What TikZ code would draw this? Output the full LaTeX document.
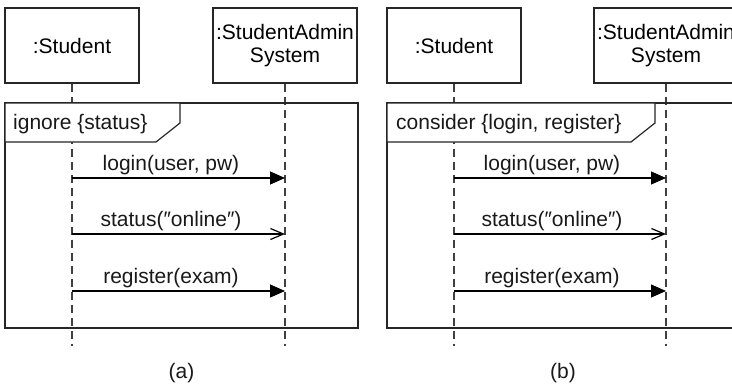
\documentclass[tikz,border=0pt]{standalone}
\usepackage{fontspec}
\setmainfont{Liberation Sans}
\usetikzlibrary{arrows.meta}
\tikzset{
  objbox/.style={draw=black!85, line width=1.2pt, fill=white, inner sep=0pt, align=center, font=\fontsize{21}{23}\selectfont},
  lifeline/.style={draw=black!75, line width=1.2pt, dash pattern=on 8pt off 5pt},
  framebox/.style={draw=black!85, line width=1.2pt},
  framelabel/.style={draw=black!85, line width=1.2pt, fill=white},
  lbl/.style={font=\fontsize{21}{23}\selectfont, inner sep=0pt, text=black!90},
  synmsg/.style={draw=black, line width=1.2pt, -{Triangle[length=15pt,width=13pt]}},
  asynmsg/.style={draw=black, line width=1.2pt, -{Straight Barb[length=13pt,width=11pt,line width=1.2pt]}},
}
\begin{document}
\begin{tikzpicture}[x=1pt,y=-1pt]
\useasboundingbox (0,0) rectangle (732,388);
\clip (0,0) rectangle (732,388);
% ---------- panel (a) ----------
\node[objbox, minimum width=134pt, minimum height=75pt] (sa) at (72,45.5) {:Student};
\node[objbox, minimum width=144pt, minimum height=75pt] (ya) at (285,45.5) {:StudentAdmin\\System};
\draw[lifeline] (sa.south) -- ++(0,262) coordinate (saend);
\draw[lifeline] (ya.south) -- ++(0,262) coordinate (yaend);
\draw[framebox] (5,103) rectangle (358,328);
\draw[framelabel] (5,103) -- (180,103) -- (180,123) -- (156,142) -- (5,142) -- cycle;
\node[lbl, anchor=base west] (fa) at (13,129) {ignore \{status\}};
\coordinate (sa1) at (72,178); \coordinate (ya1) at (285,178);
\coordinate (sa2) at (72,234); \coordinate (ya2) at (285,234);
\coordinate (sa3) at (72,291); \coordinate (ya3) at (285,291);
\draw[synmsg] (sa1) -- (ya1);
\draw[asynmsg] (sa2) -- (ya2);
\draw[synmsg] (sa3) -- (ya3);
\node[lbl, anchor=base] (la1) at (171,170) {login(user, pw)};
\node[lbl, anchor=base] (la2) at (171,226) {status(″online″)};
\node[lbl, anchor=base] (la3) at (171,283) {register(exam)};
\node[lbl, anchor=base] (capa) at (181.5,378) {(a)};
% ---------- panel (b) ----------
\node[objbox, minimum width=134pt, minimum height=75pt] (sb) at (454,45.5) {:Student};
\node[objbox, minimum width=144pt, minimum height=75pt] (yb) at (666,45.5) {:StudentAdmin\\System};
\draw[lifeline] (sb.south) -- ++(0,262) coordinate (sbend);
\draw[lifeline] (yb.south) -- ++(0,262) coordinate (ybend);
\draw[framebox] (387,103) rectangle (745,328);
\draw[framelabel] (387,103) -- (655,103) -- (655,123) -- (631,142) -- (387,142) -- cycle;
\node[lbl, anchor=base west] (fb) at (396,129) {consider \{login, register\}};
\coordinate (sb1) at (454,178); \coordinate (yb1) at (666,178);
\coordinate (sb2) at (454,234); \coordinate (yb2) at (666,234);
\coordinate (sb3) at (454,291); \coordinate (yb3) at (666,291);
\draw[synmsg] (sb1) -- (yb1);
\draw[asynmsg] (sb2) -- (yb2);
\draw[synmsg] (sb3) -- (yb3);
\node[lbl, anchor=base] (lb1) at (552,170) {login(user, pw)};
\node[lbl, anchor=base] (lb2) at (552,226) {status(″online″)};
\node[lbl, anchor=base] (lb3) at (552,283) {register(exam)};
\node[lbl, anchor=base] (capb) at (563,378) {(b)};
\end{tikzpicture}
\end{document}
